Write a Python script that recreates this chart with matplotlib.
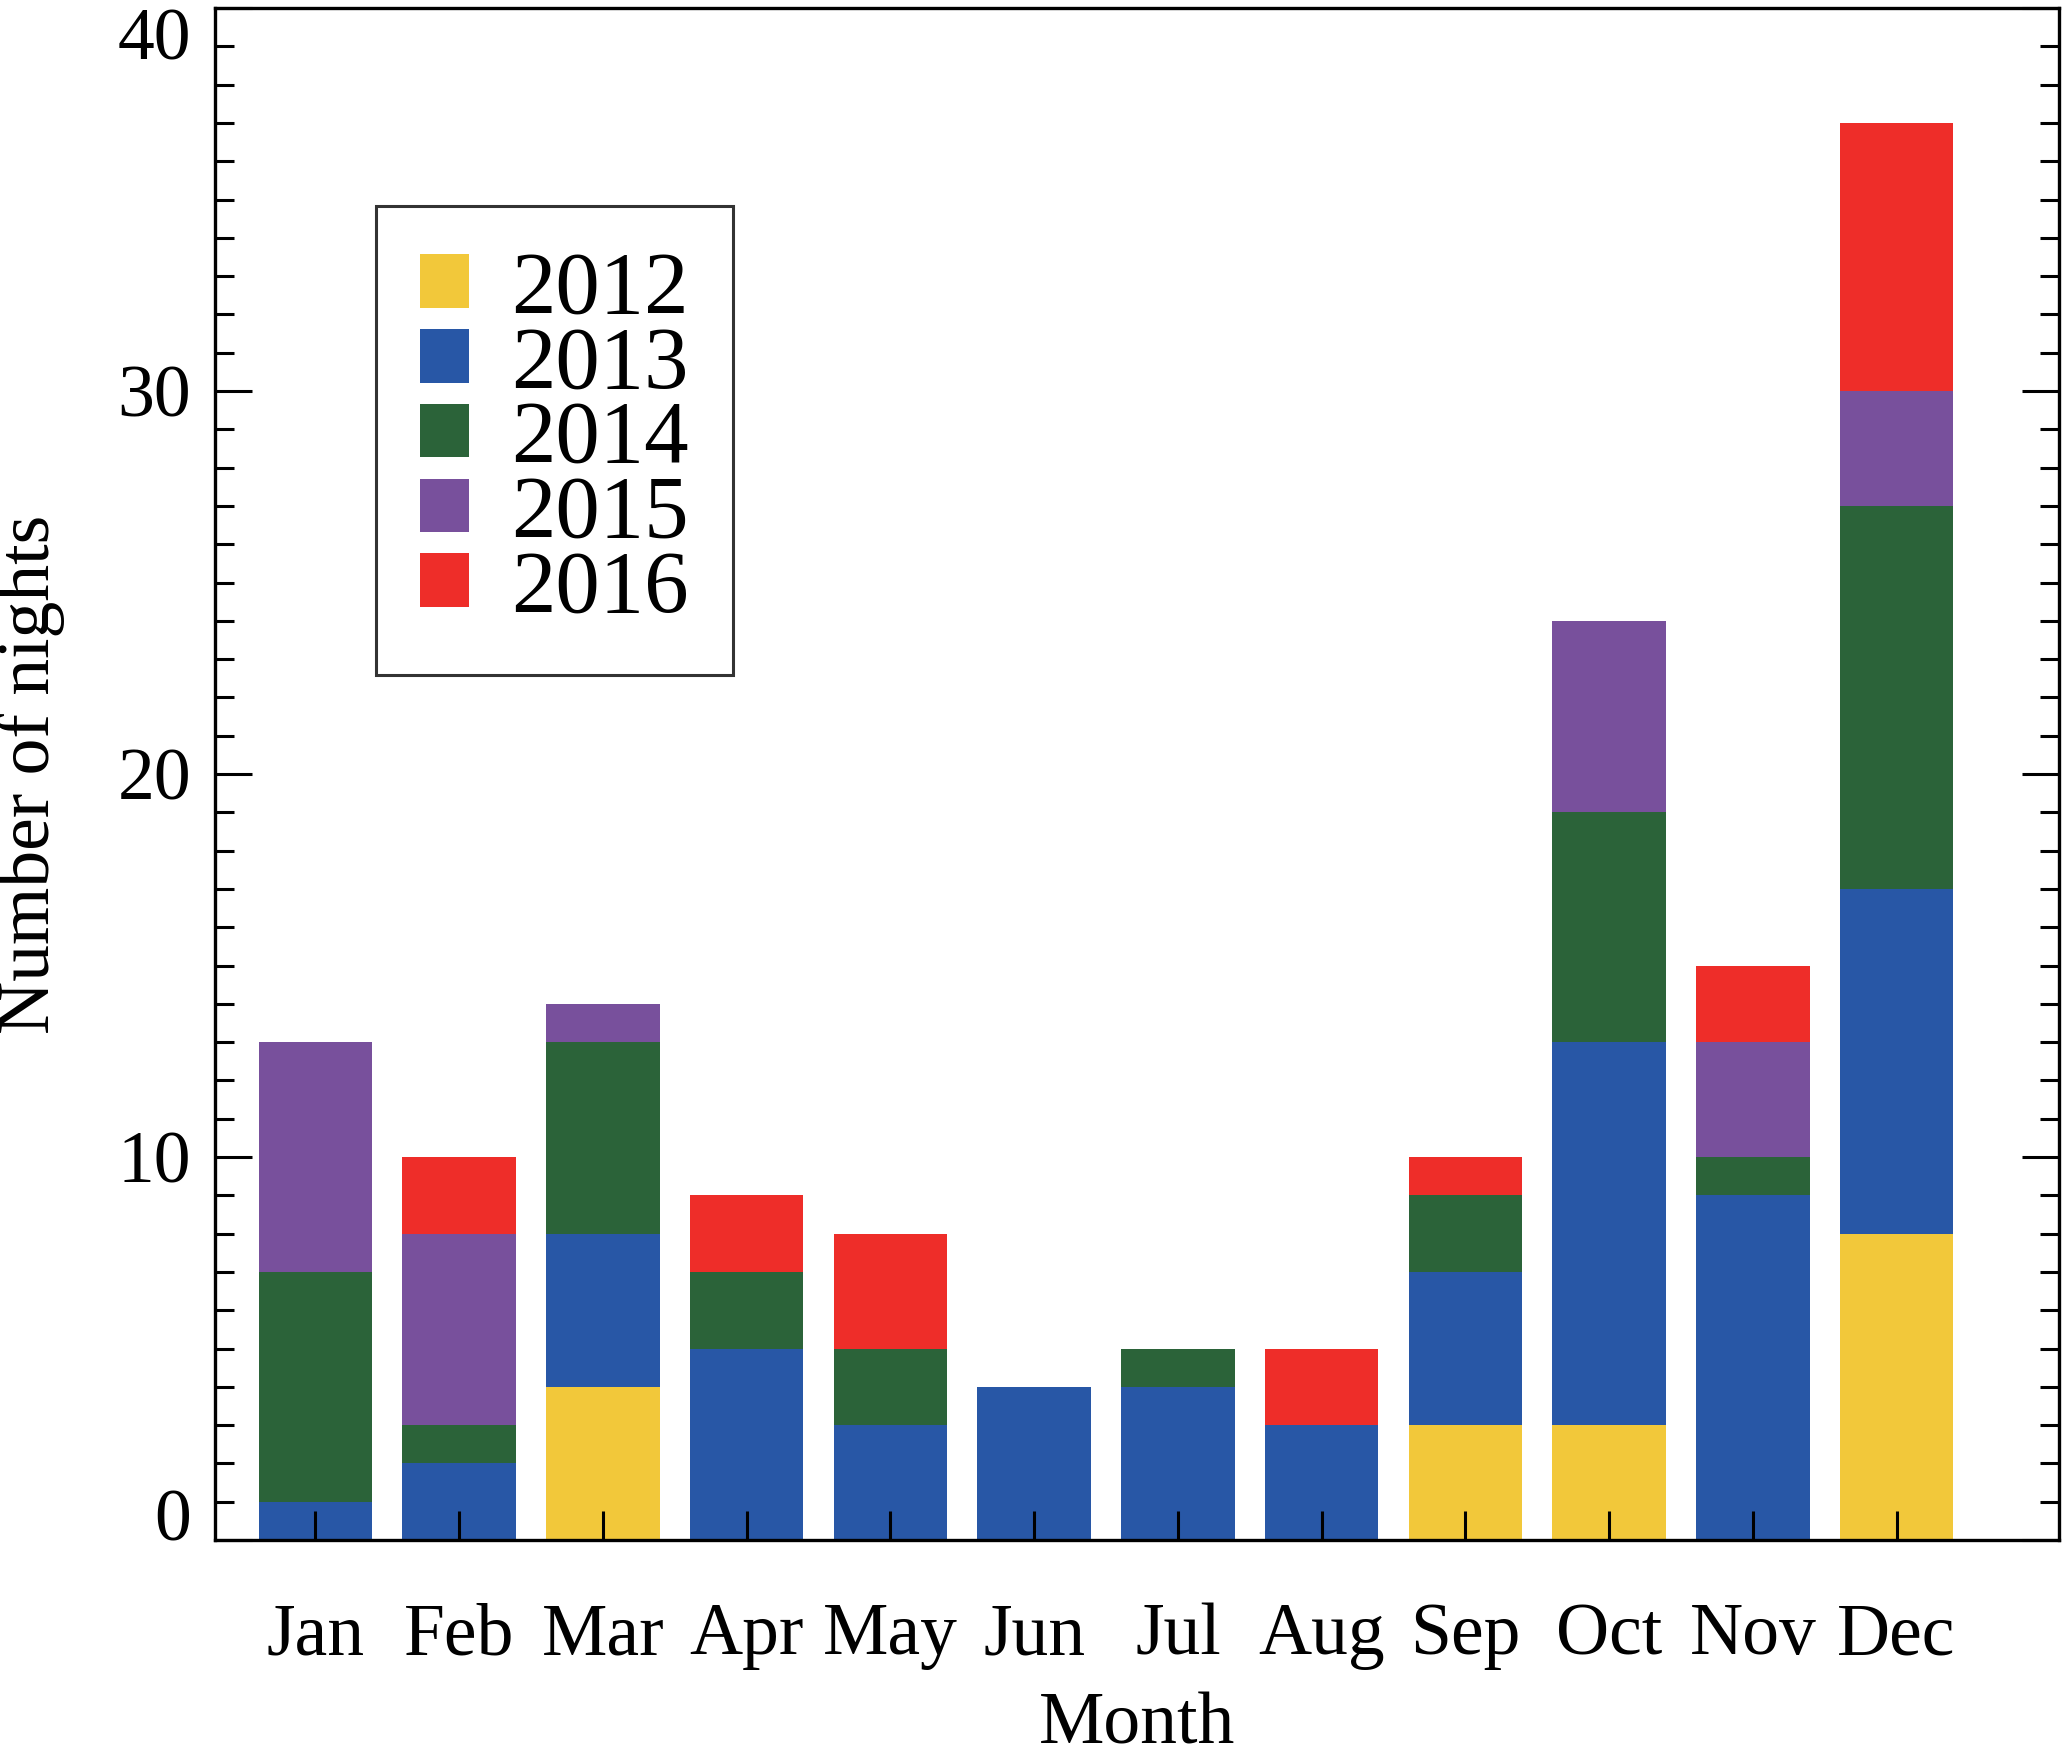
import matplotlib
matplotlib.use("Agg")
import matplotlib.pyplot as plt
import numpy as np
from matplotlib.ticker import MultipleLocator

# nights per month, split by year
months = ["Jan", "Feb", "Mar", "Apr", "May", "Jun",
          "Jul", "Aug", "Sep", "Oct", "Nov", "Dec"]
years = ["2012", "2013", "2014", "2015", "2016"]
n2012 = [0, 0, 4, 0, 0, 0, 0, 0, 3, 3, 0, 8]
n2013 = [1, 2, 4, 5, 3, 4, 4, 3, 4, 10, 9, 9]
n2014 = [6, 1, 5, 2, 2, 0, 1, 0, 2, 6, 1, 10]
n2015 = [6, 5, 1, 0, 0, 0, 0, 0, 0, 5, 3, 3]
n2016 = [0, 2, 0, 2, 3, 0, 0, 2, 1, 0, 2, 7]
colors = ["#F2C83A", "#2857A6", "#2B6339", "#78509C", "#EE2D29"]

plt.rcParams["font.family"] = ["Liberation Serif", "DejaVu Serif"]

fig = plt.figure(figsize=(20.66, 17.57), dpi=100)
ax = fig.add_axes([0.104, 0.1235, 0.8926, 0.8719])

x = np.arange(len(months))
base = np.zeros(len(months))
for yr, vals, c in zip(years, [n2012, n2013, n2014, n2015, n2016], colors):
    vals = np.array(vals, dtype=float)
    ax.bar(x, vals, width=0.79, bottom=base, color=c, linewidth=0, label=yr)
    base += vals

ax.set_xlim(-0.70, 12.13)
ax.set_ylim(0, 40)

ax.set_xticks(x)
ax.set_xticklabels(months)
ax.yaxis.set_major_locator(MultipleLocator(10))
ax.yaxis.set_minor_locator(MultipleLocator(1))

ax.tick_params(axis="x", direction="in", length=21, width=2.2, pad=45,
               labelsize=53, top=False)
ax.tick_params(axis="y", which="major", direction="in", length=26.6, width=2.2,
               pad=17, labelsize=53, right=True)
ax.tick_params(axis="y", which="minor", direction="in", length=13.7, width=2.2,
               right=True)
for s in ax.spines.values():
    s.set_linewidth(2.4)

ax.set_xlabel("Month", fontsize=53)
ax.set_ylabel("Number of nights", fontsize=53)
ax.xaxis.set_label_coords(0.5, -0.099)
ax.yaxis.set_label_coords(-0.0813, 0.5)

leg = ax.legend(loc="upper left", bbox_to_anchor=(0.0873, 0.8708), fontsize=64,
                frameon=True, fancybox=False, handlelength=0.55, handleheight=0.55,
                handletextpad=0.47, labelspacing=-0.07, borderpad=0.5,
                borderaxespad=0)
leg.get_frame().set_edgecolor("black")
leg.get_frame().set_linewidth(2.2)

# zero label sits on the axis, top label hangs below the frame
fig.canvas.draw()
for t in ax.yaxis.get_major_ticks():
    v = t.get_loc()
    if np.isclose(v, 0):
        t.label1.set_va("baseline")
    elif np.isclose(v, 40):
        t.label1.set_va("top")

fig.savefig("out.png", dpi=100)
